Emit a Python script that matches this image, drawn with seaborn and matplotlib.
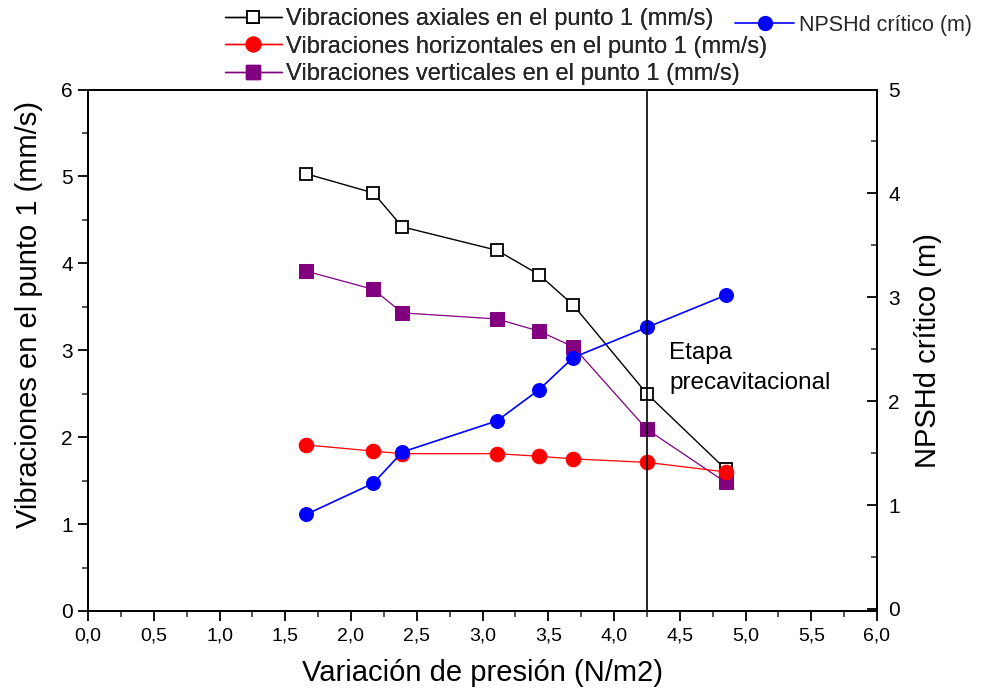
import matplotlib
matplotlib.use("Agg")
import matplotlib.pyplot as plt
import seaborn as sns
import pandas as pd
from matplotlib.ticker import MultipleLocator, FuncFormatter
from matplotlib.lines import Line2D

sns.set_theme(style="white")
plt.rcParams['font.family'] = ['Liberation Sans', 'DejaVu Sans']

# ---- data ----
presion = [1.66, 2.17, 2.39, 3.11, 3.43, 3.69, 4.25, 4.85]
vib_axial = [5.03, 4.81, 4.42, 4.15, 3.87, 3.52, 2.50, 1.63]
vib_horizontal = [1.91, 1.84, 1.81, 1.81, 1.78, 1.75, 1.71, 1.60]
vib_vertical = [3.91, 3.70, 3.43, 3.36, 3.22, 3.04, 2.09, 1.48]
npshd = [0.91, 1.21, 1.51, 1.81, 2.11, 2.42, 2.71, 3.02]
linea_etapa = 4.25

lab_ax = "Vibraciones axiales en el punto 1 (mm/s)"
lab_ho = "Vibraciones horizontales en el punto 1 (mm/s)"
lab_ve = "Vibraciones verticales en el punto 1 (mm/s)"
lab_np = "NPSHd crítico (m)"

df = pd.DataFrame({"x": presion, "ax": vib_axial, "ho": vib_horizontal,
                   "ve": vib_vertical, "np": npshd})

fig = plt.figure(figsize=(9.81, 6.93), dpi=100)
ax = fig.add_axes([88/981, 1-611/693, (877-88)/981, (611-89.5)/693])
ax2 = ax.twinx()

sns.lineplot(data=df, x="x", y="ax", ax=ax, color="black", lw=1, sort=False,
             marker="s", markersize=8.5, markerfacecolor="white",
             markeredgecolor="black", markeredgewidth=1.3, zorder=3)
sns.lineplot(data=df, x="x", y="ve", ax=ax, color="#800080", lw=0.9, sort=False,
             marker="s", markersize=10, markerfacecolor="#800080",
             markeredgecolor="#800080", zorder=3)
sns.lineplot(data=df, x="x", y="ho", ax=ax, color="red", lw=0.9, sort=False,
             marker="o", markersize=10.5, markerfacecolor="red",
             markeredgecolor="red", zorder=4)
sns.lineplot(data=df, x="x", y="np", ax=ax2, color="blue", lw=1.2, sort=False,
             marker="o", markersize=10, markerfacecolor="blue",
             markeredgecolor="blue", zorder=3)
ax2.axvline(linea_etapa, color="black", lw=1.2, zorder=10)

ax.set_xlim(0, 6)
ax.set_ylim(0, 6)
ax2.set_ylim(-0.02, 5.0)

ax.xaxis.set_major_locator(MultipleLocator(0.5))
ax.xaxis.set_minor_locator(MultipleLocator(0.25))
ax.yaxis.set_major_locator(MultipleLocator(1))
ax.yaxis.set_minor_locator(MultipleLocator(0.5))
ax2.yaxis.set_major_locator(MultipleLocator(1))
ax2.yaxis.set_minor_locator(MultipleLocator(0.5))
ax.xaxis.set_major_formatter(FuncFormatter(lambda v, p: f"{v:.1f}".replace(".", ",")))

ax.tick_params(axis="x", which="major", direction="out", length=7, width=1.3,
               bottom=True, labelsize=14, pad=5, colors="black")
ax.tick_params(axis="x", which="minor", direction="out", length=4, width=1.1, bottom=True)
ax.tick_params(axis="y", which="major", direction="out", length=7, width=1.3,
               left=True, labelsize=15, pad=4, colors="black")
ax.tick_params(axis="y", which="minor", direction="out", length=4, width=1.1, left=True)
ax2.tick_params(axis="y", which="major", direction="in", length=7, width=1.3,
                right=True, labelsize=15, pad=8, colors="black")
ax2.tick_params(axis="y", which="minor", direction="in", length=4, width=1.1, right=True)

for a in (ax, ax2):
    for s in a.spines.values():
        s.set_color("black")
        s.set_linewidth(1.3)

ax.set_xlabel("Variación de presión (N/m2)", fontsize=21, labelpad=10, color="black")
ax.set_ylabel("Vibraciones en el punto 1 (mm/s)", fontsize=21, color="black")
ax.yaxis.set_label_coords(-0.057, 0.568)
ax2.set_ylabel(lab_np, fontsize=21, labelpad=10, color="black")

ax2.text(4.42, 2.32, "Etapa\nprecavitacional", fontsize=17.5, color="black",
         ha="left", va="center", linespacing=1.45)

h1 = [Line2D([], [], color="black", lw=1, marker="s", markersize=8, markerfacecolor="white",
             markeredgecolor="black", markeredgewidth=1.3),
      Line2D([], [], color="red", lw=1, marker="o", markersize=10.5, markerfacecolor="red",
             markeredgecolor="red"),
      Line2D([], [], color="#800080", lw=1, marker="s", markersize=10,
             markerfacecolor="#800080", markeredgecolor="#800080")]
leg1 = fig.legend(h1, [lab_ax, lab_ho, lab_ve], loc="upper left",
                  bbox_to_anchor=(225/981, 1 - 8/693), frameon=False,
                  prop={"size": 17}, handlelength=2.4, borderpad=0,
                  handletextpad=0.2, labelspacing=0.24, borderaxespad=0)
fig.add_artist(leg1)
h2 = [Line2D([], [], color="blue", lw=1.2, marker="o", markersize=10, markerfacecolor="blue",
             markeredgecolor="blue")]
fig.legend(h2, [lab_np], loc="upper left", bbox_to_anchor=(735/981, 1 - 15/693),
           frameon=False, prop={"size": 15.5}, handlelength=2.75, handletextpad=0.23,
           borderpad=0, borderaxespad=0)

fig.savefig("out.png", dpi=100)
